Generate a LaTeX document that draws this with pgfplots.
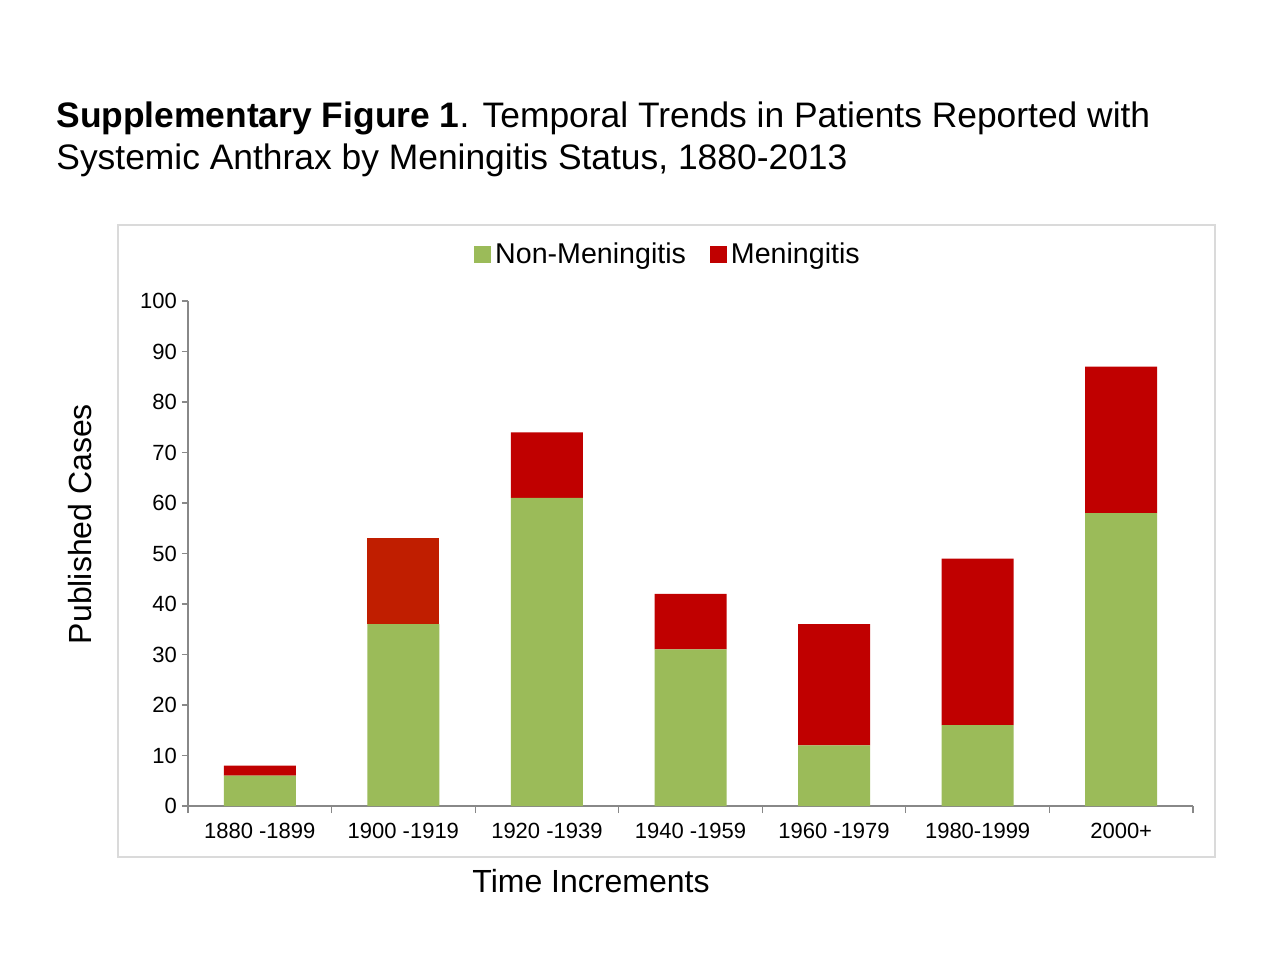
\documentclass[border=0pt]{standalone}
\usepackage{fontspec}
\setmainfont{Liberation Sans}
\usepackage{pgfplots}
\pgfplotsset{compat=1.18}
\definecolor{nmgreen}{HTML}{9BBB59}
\definecolor{mred}{HTML}{C00000}
\definecolor{mredb}{HTML}{C01E00}
\definecolor{axgray}{HTML}{888888}
\definecolor{boxgray}{HTML}{DADADA}
\begin{document}
\begin{tikzpicture}[x=1pt,y=1pt]
\useasboundingbox[fill=white] (0,0) rectangle (640,480);
\draw[boxgray, line width=0.7pt] (59,51.5) rectangle (607.5,367.5);
\node[anchor=base west, inner sep=0pt, font=\fontsize{17.7}{21}\selectfont] at (28,416) {\textbf{Supplementary Figure 1}. Temporal Trends in Patients Reported with};
\node[anchor=base west, inner sep=0pt, font=\fontsize{17.7}{21}\selectfont] at (28,395) {Systemic Anthrax by Meningitis Status, 1880-2013};
\begin{axis}[
  at={(94pt,77pt)}, anchor=south west,
  scale only axis, width=502.5pt, height=252.5pt,
  ybar stacked, bar width=36pt,
  xmin=-0.5, xmax=6.5, ymin=0, ymax=100,
  axis x line*=bottom, axis y line*=left,
  axis line style={axgray, line width=0.6pt},
  xtick={0,...,6},
  xticklabels={1880 -1899,1900 -1919,1920 -1939,1940 -1959,1960 -1979,1980-1999,2000+},
  minor xtick={-0.5,0.5,...,6.5},
  ytick={0,10,...,100},
  tick align=outside,
  major tick length=3pt, minor tick length=3.5pt,
  major x tick style={draw=none},
  minor x tick style={axgray, line width=0.6pt},
  y tick style={axgray, line width=0.6pt},
  /pgf/number format/assume math mode=true,
  tick label style={font=\fontsize{11}{13}\selectfont},
  xticklabel style={yshift=-2pt},
  yticklabel style={xshift=1pt},
  legend style={at={(0.4786,1.091)}, anchor=center, draw=none, fill=none,
    legend columns=2, font=\fontsize{14.3}{16}\selectfont,
    /tikz/every even column/.append style={column sep=10pt}},
  legend image code/.code={\fill[#1] (0pt,-4pt) rectangle (8.5pt,4.5pt);},
]
\addplot[fill=nmgreen, draw=none] coordinates {(0,6) (1,36) (2,61) (3,31) (4,12) (5,16) (6,58)};
\addlegendentry{Non-Meningitis}
\addplot[fill=mred, draw=none] coordinates {(0,2) (1,0) (2,13) (3,11) (4,24) (5,33) (6,29)};
\addlegendentry{Meningitis}
\addplot[fill=mredb, draw=none, forget plot] coordinates {(0,0) (1,17) (2,0) (3,0) (4,0) (5,0) (6,0)};
\end{axis}
\node[rotate=90, font=\fontsize{16}{19}\selectfont] at (40,218) {Published Cases};
\node[font=\fontsize{16}{19}\selectfont] at (295.5,39.5) {Time Increments};
\end{tikzpicture}
\end{document}
